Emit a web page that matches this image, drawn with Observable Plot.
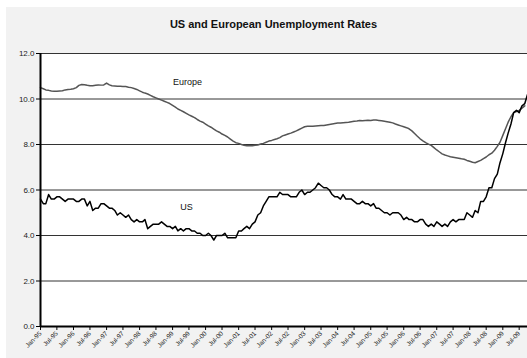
<!DOCTYPE html>
<html>
<head>
<meta charset="utf-8">
<script src="https://cdn.jsdelivr.net/npm/d3@7"></script>
<script src="https://cdn.jsdelivr.net/npm/@observablehq/plot@0.6"></script>
<style>
  html, body { margin: 0; padding: 0; background: #fff; width: 527px; height: 358px; overflow: hidden; }
  #box { position: absolute; left: 6px; top: 7px; width: 521px; height: 351px; background: #f2f2f2; font-family: "Liberation Sans", Arial, sans-serif; }
  #title { height: 33px; box-sizing: border-box; padding-top: 11px; padding-left: 14px; text-align: center; font-size: 11px; line-height: 13px; font-weight: bold; color: #111; }
  svg { display: block; }
</style>
</head>
<body>
<div id="box">
  <div id="title">US and European Unemployment Rates</div>
  <div id="chart"></div>
</div>
<script>
// US unemployment rate, monthly Jan-95 .. Oct-09
const usValues = [
  5.6,5.4,5.4,5.8,5.6,5.6,5.7,5.7,5.6,5.5,5.6,5.6,
  5.6,5.5,5.5,5.6,5.6,5.3,5.5,5.1,5.2,5.2,5.4,5.4,
  5.3,5.2,5.2,5.1,4.9,5.0,4.9,4.8,4.9,4.7,4.6,4.7,
  4.6,4.6,4.7,4.3,4.4,4.5,4.5,4.5,4.6,4.5,4.4,4.4,
  4.3,4.4,4.2,4.3,4.2,4.3,4.3,4.2,4.2,4.1,4.1,4.0,
  4.0,4.1,4.0,3.8,4.0,4.0,4.0,4.1,3.9,3.9,3.9,3.9,
  4.2,4.2,4.3,4.4,4.3,4.5,4.6,4.9,5.0,5.3,5.5,5.7,
  5.7,5.7,5.7,5.9,5.8,5.8,5.8,5.7,5.7,5.7,5.9,6.0,
  5.8,5.9,5.9,6.0,6.1,6.3,6.2,6.1,6.1,6.0,5.8,5.7,
  5.7,5.6,5.8,5.6,5.6,5.6,5.5,5.4,5.4,5.5,5.4,5.4,
  5.3,5.4,5.2,5.2,5.1,5.0,5.0,4.9,5.0,5.0,5.0,4.9,
  4.7,4.8,4.7,4.7,4.6,4.6,4.7,4.7,4.5,4.4,4.5,4.4,
  4.6,4.5,4.4,4.5,4.4,4.6,4.7,4.6,4.7,4.7,4.7,5.0,
  4.9,4.8,5.1,5.0,5.5,5.5,5.7,6.1,6.1,6.5,6.7,7.2,
  7.6,8.1,8.5,8.9,9.4,9.5,9.4,9.7,9.8,10.2
];
// Euro area unemployment rate, monthly Jan-95 .. Sep-09
const euValues = [
  10.5,10.45,10.4,10.38,10.35,10.34,10.34,10.35,10.36,10.4,10.42,10.43,
  10.45,10.5,10.6,10.64,10.63,10.6,10.58,10.58,10.6,10.62,10.61,10.62,
  10.7,10.62,10.58,10.57,10.56,10.56,10.55,10.55,10.52,10.5,10.46,10.42,
  10.36,10.3,10.26,10.22,10.16,10.1,10.05,10.0,9.95,9.9,9.85,9.8,
  9.72,9.64,9.56,9.5,9.44,9.37,9.3,9.24,9.18,9.1,9.03,8.98,
  8.9,8.82,8.76,8.68,8.6,8.54,8.46,8.4,8.33,8.24,8.15,8.08,
  8.05,8.0,7.97,7.95,7.94,7.95,7.97,7.98,8.02,8.05,8.1,8.15,
  8.18,8.22,8.25,8.3,8.38,8.42,8.46,8.5,8.55,8.6,8.66,8.72,
  8.78,8.8,8.8,8.8,8.81,8.82,8.83,8.84,8.86,8.88,8.9,8.92,
  8.94,8.95,8.96,8.97,8.98,9.0,9.02,9.03,9.05,9.04,9.06,9.07,
  9.06,9.08,9.08,9.06,9.04,9.02,9.0,8.98,8.95,8.9,8.86,8.82,
  8.78,8.74,8.69,8.6,8.48,8.36,8.25,8.16,8.08,8.02,7.96,7.86,
  7.76,7.67,7.59,7.54,7.5,7.46,7.44,7.42,7.4,7.37,7.35,7.3,
  7.26,7.22,7.2,7.25,7.3,7.38,7.45,7.55,7.62,7.75,7.92,8.1,
  8.4,8.7,8.98,9.22,9.4,9.45,9.5,9.6,9.7
];
const yTicks = [0, 2, 4, 6, 8, 10, 12];
const seriesLabels = ["Europe", "US"];
const labelDates = [new Date(Date.UTC(1999, 5, 15)), new Date(Date.UTC(1999, 5, 5))];
const labelValues = [10.74, 5.24];

const start = new Date(Date.UTC(1995, 0, 1));
const end = new Date(Date.UTC(2009, 9, 1));
const monthDate = i => new Date(Date.UTC(1995, i, 1));
const us = usValues.map((v, i) => ({date: monthDate(i), value: v}));
const eu = euValues.map((v, i) => ({date: monthDate(i), value: v}));
const xTicks = d3.utcMonth.every(6).range(start, new Date(Date.UTC(2009, 7, 1)));
const labels = seriesLabels.map((t, i) => ({text: t, date: labelDates[i], value: labelValues[i]}));

const chart = Plot.plot({
  width: 521,
  height: 318,
  marginLeft: 34,
  marginRight: 0,
  marginTop: 13,
  marginBottom: 32,
  style: {background: "transparent", fontFamily: "'Liberation Sans', Arial, sans-serif", color: "#222", overflow: "visible"},
  x: {type: "utc", domain: [start, end]},
  y: {domain: [0, 12]},
  marks: [
    Plot.frame({fill: "white", stroke: "none"}),
    Plot.ruleY(yTicks, {stroke: "#333", strokeWidth: 1}),
    Plot.line(eu, {x: "date", y: "value", stroke: "#555", strokeWidth: 1.5}),
    Plot.line(us, {x: "date", y: "value", stroke: "#000", strokeWidth: 1.5}),
    Plot.ruleX([start], {stroke: "#000", strokeWidth: 2}),
    Plot.ruleY([0], {stroke: "#000", strokeWidth: 2}),
    Plot.axisY({ticks: yTicks, tickFormat: d => d.toFixed(1), tickSize: 4, tickPadding: 2, fontSize: 8, label: null, stroke: "#000"}),
    Plot.axisX({ticks: xTicks, tickFormat: d3.utcFormat("%b-%y"), tickRotate: -45, tickSize: 4, tickPadding: 2, fontSize: 6.5, label: null, stroke: "#000"}),
    Plot.text(labels, {x: "date", y: "value", text: "text", fontSize: 9, fill: "#111"})
  ]
});
document.getElementById("chart").appendChild(chart);
</script>
</body>
</html>
